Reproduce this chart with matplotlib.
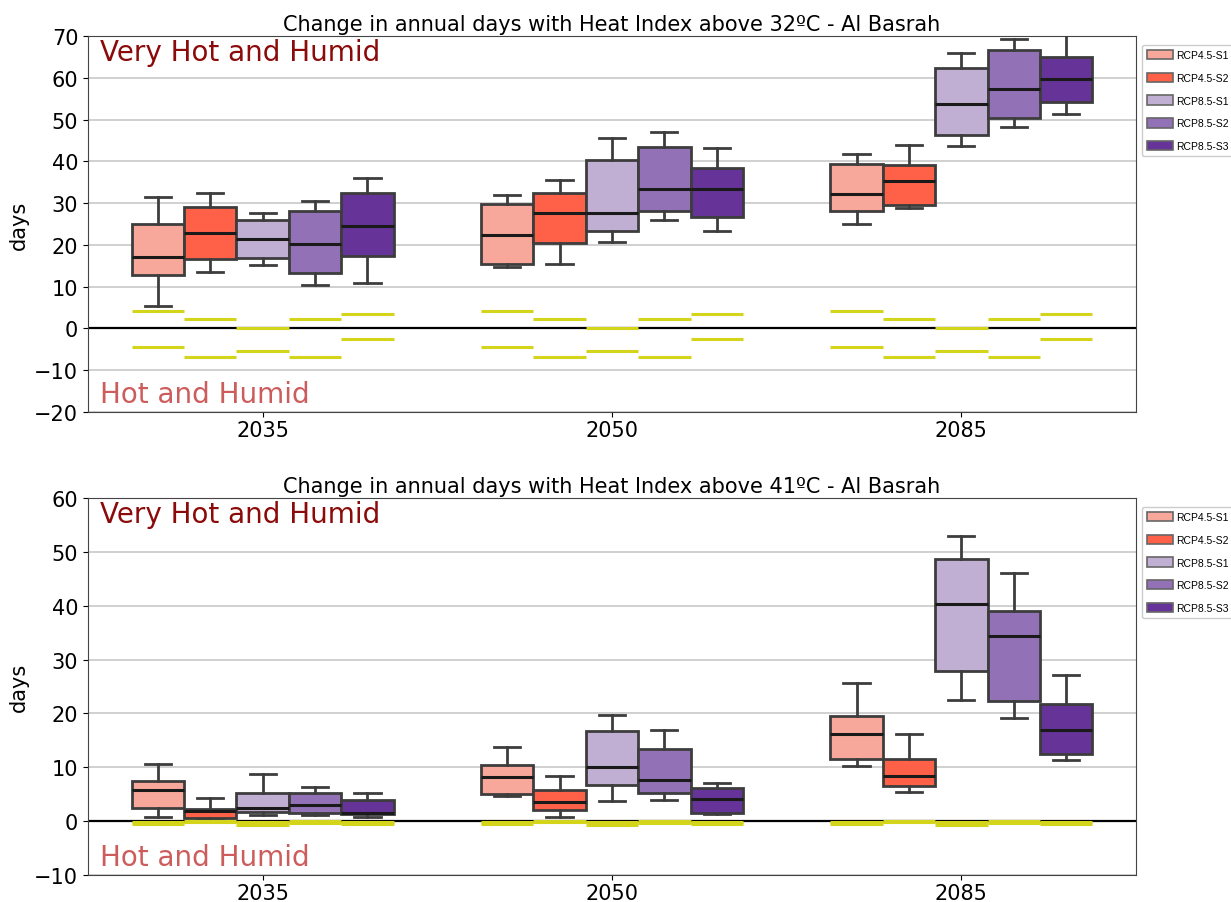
#%% Librerias
import numpy as np
import matplotlib.pyplot as plt
from matplotlib.patches import Patch

#%% Datos
years = ['2035', '2050', '2085']
scenarios = ['RCP4.5-S1', 'RCP4.5-S2', 'RCP8.5-S1', 'RCP8.5-S2', 'RCP8.5-S3']
colores = ['#F8A89A', '#FE6148', '#C1AFD3', '#9371B6', '#663399']

# HI > 32ºC : filas = escenario, columnas = año
hi32_whislo = [[5.4, 14.7, 25.1], [13.6, 15.4, 28.8], [15.2, 20.8, 43.7], [10.4, 25.9, 48.3], [10.9, 23.3, 51.4]]
hi32_q1     = [[12.8, 15.5, 28.1], [16.7, 20.5, 29.6], [16.9, 23.4, 46.4], [13.2, 28.0, 50.4], [17.3, 26.7, 54.2]]
hi32_med    = [[17.2, 22.3, 32.3], [22.9, 27.6, 35.3], [21.3, 27.6, 53.7], [20.3, 33.3, 57.3], [24.6, 33.3, 59.6]]
hi32_q3     = [[25.1, 29.7, 39.4], [29.1, 32.5, 39.2], [25.9, 40.4, 62.4], [28.0, 43.5, 66.7], [32.4, 38.4, 64.9]]
hi32_whishi = [[31.4, 31.9, 41.8], [32.5, 35.6, 43.9], [27.6, 45.7, 66.0], [30.5, 47.0, 69.3], [36.1, 43.2, 72.0]]
hi32_obs_up = [4.3, 2.3, 0.0, 2.3, 3.4]
hi32_obs_lo = [-4.4, -6.9, -5.3, -6.9, -2.5]

# HI > 41ºC
hi41_whislo = [[0.8, 4.6, 10.3], [0.3, 0.75, 5.5], [1.1, 3.8, 22.5], [1.1, 4.0, 19.2], [0.8, 1.3, 11.3]]
hi41_q1     = [[2.4, 5.0, 11.5], [0.6, 2.0, 6.5], [1.7, 6.8, 27.8], [1.6, 5.3, 22.4], [1.3, 1.5, 12.4]]
hi41_med    = [[5.8, 8.2, 16.1], [1.9, 3.6, 8.4], [2.5, 10.1, 40.3], [3.0, 7.6, 34.3], [1.6, 4.1, 16.9]]
hi41_q3     = [[7.5, 10.4, 19.6], [2.3, 5.8, 11.5], [5.2, 16.7, 48.6], [5.2, 13.4, 39.0], [4.0, 6.1, 21.7]]
hi41_whishi = [[10.6, 13.8, 25.7], [4.3, 8.3, 16.1], [8.7, 19.7, 53.0], [6.3, 16.9, 46.0], [5.2, 7.1, 27.2]]
hi41_obs_up = [-0.1, 0.0, -0.1, 0.0, -0.2]
hi41_obs_lo = [-0.5, -0.2, -0.7, -0.3, -0.6]

ancho = 0.15
gris = '#3d3d3d'

#%% funcion ploteo
def panel(ax, wlo, q1, med, q3, whi, obs_up, obs_lo, umbral, ylim):
    ax.grid(axis='y', color='#c8c8c8', lw=1.2, zorder=0)
    ax.axhline(0, color='k', lw=1.6, zorder=2)
    for j, sc in enumerate(scenarios):
        pos = np.arange(len(years)) + (j - 2) * ancho
        stats = [dict(whislo=wlo[j][i], q1=q1[j][i], med=med[j][i], q3=q3[j][i],
                      whishi=whi[j][i], fliers=[]) for i in range(len(years))]
        ax.bxp(stats, positions=pos, widths=ancho, patch_artist=True, showfliers=False,
               boxprops=dict(facecolor=colores[j], edgecolor=gris, lw=2),
               whiskerprops=dict(color=gris, lw=2), capprops=dict(color=gris, lw=2),
               medianprops=dict(color='#1a1a1a', lw=2.2), manage_ticks=False, zorder=3)
        ax.hlines([obs_up[j]] * len(years), pos - ancho / 2, pos + ancho / 2,
                  color='#D4D41A', lw=2.2, zorder=4)
        ax.hlines([obs_lo[j]] * len(years), pos - ancho / 2, pos + ancho / 2,
                  color='#D4D41A', lw=2.2, zorder=4)
    ax.set_xlim(-0.5, 2.5)
    ax.set_ylim(*ylim)
    ax.set_xticks(range(len(years)))
    ax.set_xticklabels(years)
    ax.tick_params(labelsize=15)
    ax.tick_params(axis='x', pad=2)
    ax.set_ylabel('days', fontsize=15)
    ax.set_title(f'Change in annual days with Heat Index above {umbral}ºC - Al Basrah', fontsize=15, pad=4)
    for s in ax.spines.values():
        s.set_color('#444444')
    ax.text(0.011, 0.995, 'Very Hot and Humid', transform=ax.transAxes, va='top',
            fontsize=20, color='#8B0A0A')
    ax.text(0.011, 0.01, 'Hot and Humid', transform=ax.transAxes, va='bottom',
            fontsize=20, color='#CD5C5C')
    handles = [Patch(facecolor=c, edgecolor='#666666', lw=1.2, label=s) for c, s in zip(colores, scenarios)]
    ax.legend(handles=handles, loc='upper left', bbox_to_anchor=(1.003, 0.985),
              prop=dict(family=['Liberation Sans Narrow', 'Liberation Sans'], size=7.5),
              handlelength=2.5, handleheight=1.0, labelspacing=1.2, handletextpad=0.25,
              borderpad=0.5, borderaxespad=0.3, framealpha=1, edgecolor='#cccccc')

#%% figura
fig = plt.figure(figsize=(12.31, 9.03), dpi=100)
ax1 = fig.add_axes([0.0715, 0.5426, 0.8513, 0.4164])
ax2 = fig.add_axes([0.0715, 0.0299, 0.8513, 0.4175])

panel(ax1, hi32_whislo, hi32_q1, hi32_med, hi32_q3, hi32_whishi, hi32_obs_up, hi32_obs_lo, 32, (-20, 70))
ax1.set_yticks(range(-20, 71, 10))
panel(ax2, hi41_whislo, hi41_q1, hi41_med, hi41_q3, hi41_whishi, hi41_obs_up, hi41_obs_lo, 41, (-10, 60))
ax2.set_yticks(range(-10, 61, 10))

fig.savefig('out.png', dpi=100)
